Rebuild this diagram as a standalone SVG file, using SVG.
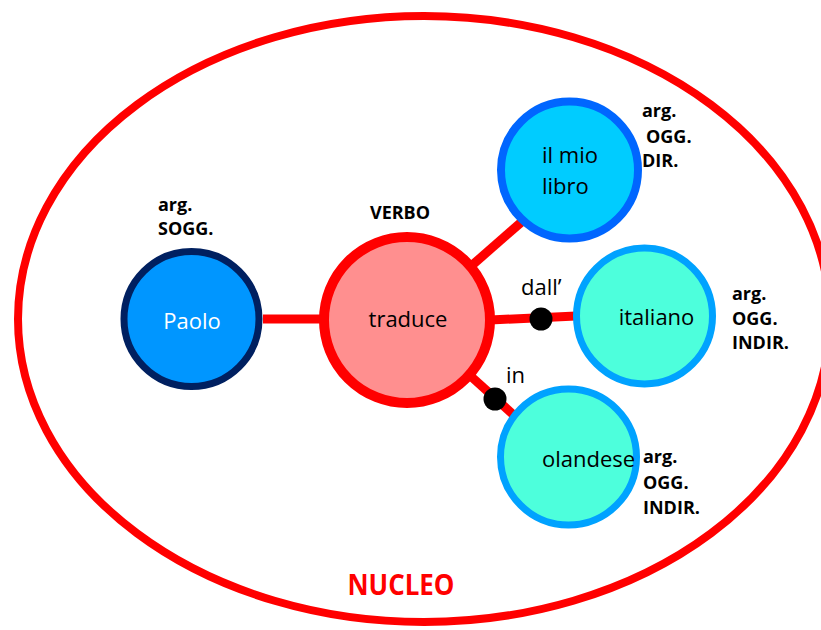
<svg xmlns="http://www.w3.org/2000/svg" width="821" height="630" viewBox="0 0 821 630">
<style>
.lbl{font-family:"Open Sans","Noto Sans",sans-serif;font-size:22px;fill:#000}
.tag{font-family:"Open Sans","Noto Sans",sans-serif;font-size:18px;font-weight:bold;fill:#000}
.edge{stroke:#FF0000;stroke-width:9;fill:none}
.dot{fill:#000}
</style>
<rect width="821" height="630" fill="#fff"/>
<g id="nucleo">
<ellipse cx="424" cy="319" rx="406" ry="303" fill="none" stroke="#FF0000" stroke-width="8"/>
<text x="401" y="595" text-anchor="middle" font-family="'Open Sans','Noto Sans',sans-serif" font-size="28" font-weight="bold" fill="#FF0000" textLength="107" lengthAdjust="spacingAndGlyphs">NUCLEO</text>
</g>
<g id="connectors">
<line class="edge" x1="263" y1="319" x2="322" y2="319"/>
<line class="edge" x1="470" y1="267" x2="525" y2="219"/>
<line class="edge" x1="490" y1="320" x2="576" y2="316"/>
<line class="edge" x1="465" y1="371" x2="517" y2="418"/>
<circle class="dot" cx="541" cy="319" r="11.5"/>
<circle class="dot" cx="495" cy="399" r="11.5"/>
<text class="lbl" x="521" y="295">dall’</text>
<text class="lbl" x="506" y="383">in</text>
</g>
<g id="paolo">
<circle cx="191.5" cy="319" r="67.5" fill="#0096FF" stroke="#002060" stroke-width="7"/>
<text class="lbl" x="192" y="329" text-anchor="middle" fill="#fff" style="fill:#fff">Paolo</text>
<text class="tag" x="158" y="211">arg.</text>
<text class="tag" x="158" y="235">SOGG.</text>
</g>
<g id="traduce">
<circle cx="407" cy="320" r="83" fill="#FF8F8F" stroke="#FF0000" stroke-width="10"/>
<text class="lbl" x="408" y="327" text-anchor="middle">traduce</text>
<text class="tag" x="400" y="219" text-anchor="middle">VERBO</text>
</g>
<g id="libro">
<circle cx="569.5" cy="170" r="68.5" fill="#00CCFF" stroke="#0066FF" stroke-width="8"/>
<text class="lbl" x="542" y="163">il mio</text>
<text class="lbl" x="542" y="194">libro</text>
<text class="tag" x="642" y="117">arg.</text>
<text class="tag" x="646" y="143">OGG.</text>
<text class="tag" x="642" y="167">DIR.</text>
</g>
<g id="italiano">
<circle cx="644.5" cy="316" r="68" fill="#4DFFDC" stroke="#00A2FF" stroke-width="7"/>
<text class="lbl" x="656.5" y="325" text-anchor="middle">italiano</text>
<text class="tag" x="732" y="300">arg.</text>
<text class="tag" x="732" y="325">OGG.</text>
<text class="tag" x="732" y="349">INDIR.</text>
</g>
<g id="olandese">
<circle cx="568.5" cy="457" r="68" fill="#4DFFDC" stroke="#00A2FF" stroke-width="7"/>
<text class="lbl" x="542" y="467">olandese</text>
<text class="tag" x="643" y="463">arg.</text>
<text class="tag" x="643" y="489">OGG.</text>
<text class="tag" x="643" y="514">INDIR.</text>
</g>
</svg>
